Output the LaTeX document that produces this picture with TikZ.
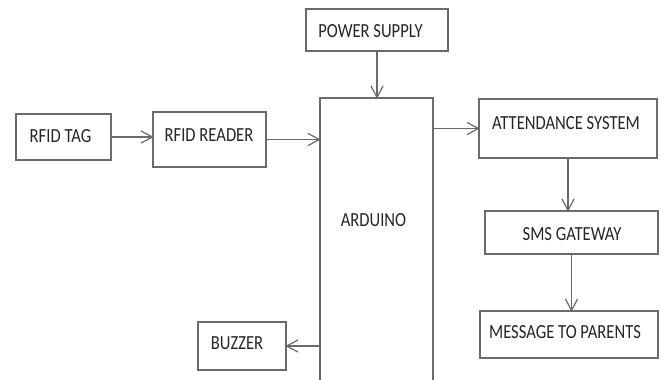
\documentclass[tikz,border=0pt]{standalone}
\usepackage{fontspec}
\setmainfont{Carlito}[FakeStretch=0.83]
\definecolor{linegray}{HTML}{6A6A6A}
\definecolor{textgray}{HTML}{252525}
\tikzset{
  blk/.style={draw=linegray, line width=1.2pt, rectangle, inner sep=0pt, fill=none},
  lbl/.style={anchor=base, inner sep=0pt, text=textgray, font=\fontsize{20}{22}\selectfont},
  conn/.style={draw=linegray, line width=1.2pt},
  chevst/.style={draw=linegray, line width=1.2pt, line join=miter},
}
\newcommand\chevtip[2]{\draw[chevst] (#1) ++(#2+152:13pt) -- (#1) -- ++(#2-152:13pt);}
\begin{document}
\begin{tikzpicture}[x=1pt,y=-1pt]
\clip (0,0) rectangle (667,380);
\useasboundingbox (0,0) rectangle (667,380);
% boxes
\node[blk, minimum width=142pt, minimum height=42pt] (power) at (377,30) {};
\node[blk, minimum width=113pt, minimum height=290pt] (ard) at (376.5,243) {};
\node[blk, minimum width=95pt, minimum height=46pt] (tag) at (63.5,137) {};
\node[blk, minimum width=113pt, minimum height=55pt] (reader) at (209.5,139.5) {};
\node[blk, minimum width=178pt, minimum height=59pt] (att) at (568,128.5) {};
\node[blk, minimum width=173pt, minimum height=43pt] (sms) at (571.5,232.5) {};
\node[blk, minimum width=178pt, minimum height=47pt] (msg) at (569,334.5) {};
\node[blk, minimum width=88pt, minimum height=48pt] (buzzer) at (242,346) {};
% labels
\node[lbl] (tpower) at (370.5,37) {POWER SUPPLY};
\node[lbl] (tard) at (373.5,226) {ARDUINO};
\node[lbl] (ttag) at (60.5,142) {RFID TAG};
\node[lbl] (treader) at (209,141) {RFID READER};
\node[lbl] (tatt) at (566,129) {ATTENDANCE SYSTEM};
\node[lbl] (tsms) at (572,240) {SMS GATEWAY};
\node[lbl] (tmsg) at (565,338) {MESSAGE TO PARENTS};
\node[lbl] (tbuzzer) at (237,349) {BUZZER};
% arrow end points
\coordinate (e1) at (tag.east -| reader.west);
\coordinate (e2) at (reader.east -| ard.west);
\coordinate (s3) at (att.west -| ard.east);
\coordinate (e4) at (power.south |- ard.north);
\coordinate (e5) at (att.south |- sms.north);
\coordinate (e6) at (sms.south |- msg.north);
\coordinate (s7) at (buzzer.east -| ard.west);
% connectors
\draw[conn] (tag.east) -- (e1);
\draw[conn] (reader.east) -- (e2);
\draw[conn] (s3) -- (att.west);
\draw[conn] (power.south) -- (e4);
\draw[conn] (att.south) -- (e5);
\draw[conn] (sms.south) -- (e6);
\draw[conn] (s7) -- (buzzer.east);
% arrowheads
\chevtip{e1}{0}
\chevtip{e2}{0}
\chevtip{att.west}{0}
\chevtip{e4}{-90}
\chevtip{e5}{-90}
\chevtip{e6}{-90}
\chevtip{buzzer.east}{180}
\end{tikzpicture}
\end{document}
